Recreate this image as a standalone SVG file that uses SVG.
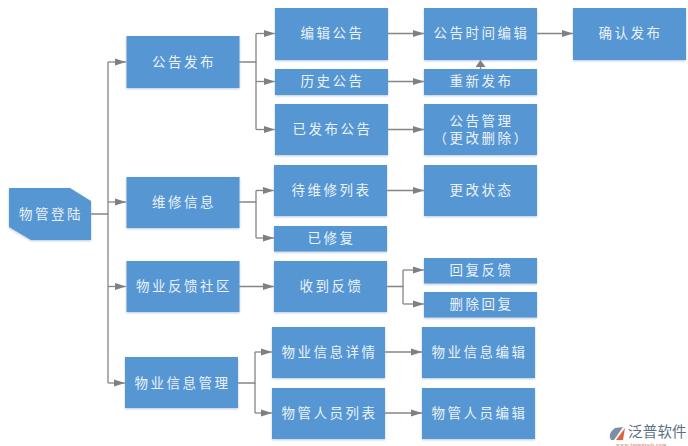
<svg xmlns="http://www.w3.org/2000/svg" width="688" height="446" viewBox="0 0 688 446">
<defs>
<marker id="arrow" markerUnits="userSpaceOnUse" markerWidth="12" markerHeight="9" refX="11" refY="4" orient="auto"><path d="M0 0.500L11 4L0 7.500Z" fill="#808080"/></marker>
<marker id="arrowUp" markerUnits="userSpaceOnUse" markerWidth="8" markerHeight="11" refX="7" refY="5" orient="auto"><path d="M0 0L7 5L0 10Z" fill="#808080"/></marker>
<filter id="sh" x="-5%" y="-5%" width="110%" height="115%"><feDropShadow dx="0" dy="1" stdDeviation="1" flood-color="#9db4cc" flood-opacity="0.7"/></filter>
</defs>
<style>
.n{fill:#5797d3;filter:url(#sh)}
text{fill:#eaf2f9;font-family:"Noto Sans CJK SC","Liberation Sans",sans-serif;font-size:13.5px;text-anchor:middle;letter-spacing:2.500px}
.c path{fill:none;stroke:#858585;stroke-width:1.3}
.c .a{marker-end:url(#arrow)}
.c .u2{marker-end:url(#arrowUp)}
.w{fill:#5b6f86;font-size:14.500px;letter-spacing:.2px;text-anchor:start}
.u{fill:#c8553a;font-size:5px;letter-spacing:.6px;text-anchor:start;font-family:"Liberation Serif",serif}
</style>
<rect width="688" height="446" fill="#fff"/>
<g id="connectors" class="c">
<path d="M91 214H108V62"/><path class="a" d="M108 62H126"/>
<path class="a" d="M108 202H126"/>
<path d="M108 214V383"/><path class="a" d="M108 286.500H126"/><path class="a" d="M108 383H125"/>
<path d="M239 62H256V33.500"/><path class="a" d="M256 33.500H275"/>
<path d="M256 62V129.500"/><path class="a" d="M256 81.500H275"/><path class="a" d="M256 129.500H275"/>
<path class="a" d="M388 33.500H424"/><path class="a" d="M388 81.500H424"/><path class="a" d="M388 129.500H424"/>
<path class="a" d="M537 33.500H573"/><path class="u2" d="M480.500 69V60"/>
<path d="M239 202H256V190.500"/><path class="a" d="M256 190.500H274"/><path d="M256 202V238"/><path class="a" d="M256 238H274"/>
<path class="a" d="M387 190.500H424"/>
<path class="a" d="M239 286.500H274"/>
<path d="M387 286.500H403V270"/><path class="a" d="M403 270H424"/><path d="M403 286.500V304"/><path class="a" d="M403 304H424"/>
<path d="M238 383H255V352"/><path class="a" d="M255 352H272"/><path d="M255 383V413"/><path class="a" d="M255 413H272"/>
<path class="a" d="M385 352H422"/><path class="a" d="M385 413H422"/>
</g>
<g id="n0"><path class="n" d="M9 188H70L91 201V240H31L9 227Z"/><text x="51" y="219">物管登陆</text></g>
<g id="n1"><rect class="n" x="126.500" y="36" width="113" height="52"/><text x="184" y="67">公告发布</text></g>
<g id="n2"><rect class="n" x="126.500" y="177" width="113" height="51"/><text x="184" y="207">维修信息</text></g>
<g id="n3"><rect class="n" x="126.500" y="261" width="113" height="51"/><text x="184" y="291">物业反馈社区</text></g>
<g id="n4"><rect class="n" x="125" y="357" width="113" height="51"/><text x="182.500" y="388">物业信息管理</text></g>
<g id="n5"><rect class="n" x="275" y="8" width="113" height="52"/><text x="332.500" y="38">编辑公告</text></g>
<g id="n6"><rect class="n" x="275" y="69" width="113" height="26"/><text x="332.500" y="86">历史公告</text></g>
<g id="n7"><rect class="n" x="275" y="104" width="113" height="51"/><text x="332.500" y="134">已发布公告</text></g>
<g id="n8"><rect class="n" x="274" y="165" width="113" height="51"/><text x="331.500" y="195">待维修列表</text></g>
<g id="n9"><rect class="n" x="274" y="226" width="113" height="25.500"/><text x="331.500" y="243">已修复</text></g>
<g id="n10"><rect class="n" x="274" y="261" width="113" height="51"/><text x="331.500" y="291">收到反馈</text></g>
<g id="n11"><rect class="n" x="272" y="327" width="113" height="51"/><text x="329.500" y="357">物业信息详情</text></g>
<g id="n12"><rect class="n" x="272" y="388" width="113" height="51"/><text x="329.500" y="418">物管人员列表</text></g>
<g id="n13"><rect class="n" x="424" y="8" width="113" height="52"/><text x="481.500" y="38">公告时间编辑</text></g>
<g id="n14"><rect class="n" x="424" y="69" width="113" height="26"/><text x="481.500" y="86">重新发布</text></g>
<g id="n15"><rect class="n" x="424" y="104" width="113" height="51"/><text x="481.500" y="126">公告管理</text><text x="481.500" y="143">（更改删除）</text></g>
<g id="n16"><rect class="n" x="424" y="165" width="113" height="51"/><text x="481.500" y="195">更改状态</text></g>
<g id="n17"><rect class="n" x="424" y="258" width="113" height="25.500"/><text x="481.500" y="275">回复反馈</text></g>
<g id="n18"><rect class="n" x="424" y="292" width="113" height="25.500"/><text x="481.500" y="309">删除回复</text></g>
<g id="n19"><rect class="n" x="422" y="327" width="113" height="51"/><text x="479.500" y="357">物业信息编辑</text></g>
<g id="n20"><rect class="n" x="422" y="388" width="113" height="51"/><text x="479.500" y="418">物管人员编辑</text></g>
<g id="n21"><rect class="n" x="573" y="8" width="113" height="52"/><text x="630.500" y="38">确认发布</text></g>
<g id="logo">
<path d="M615 428L623 427L614 440H611Q607 434 615 428Z" fill="#7d8ea3"/>
<path d="M625 428L623 440H616Z" fill="#d9663f"/>
<text class="w" x="628" y="437">泛普软件</text>
<text class="u" x="616" y="445.500">www.fanpusoft.com</text>
</g>
</svg>
